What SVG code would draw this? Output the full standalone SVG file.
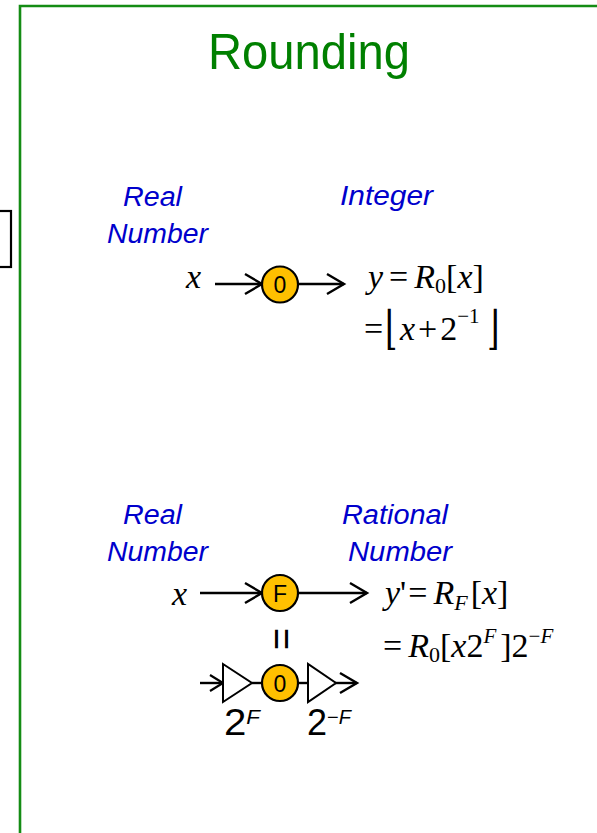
<svg xmlns="http://www.w3.org/2000/svg" width="597" height="833" viewBox="0 0 597 833">
<style>
.lbl{font-family:"Liberation Sans",Arial,sans-serif;font-style:italic;font-size:27px;fill:#0000CC}
.m{font-family:"Liberation Serif","Times New Roman",serif;font-size:34px;fill:#000}
.i{font-style:italic}
.sub{font-size:22px}
.sup{font-size:21px}
.node circle{fill:#FFC000;stroke:#000;stroke-width:2.2}
.node text{font-family:"Liberation Sans",Arial,sans-serif;font-size:23px;text-anchor:middle;fill:#000}
.conn line{stroke:#000;stroke-width:2.4;fill:none}
.tri{fill:#fff;stroke:#000;stroke-width:2}
.s{font-family:"Liberation Sans",Arial,sans-serif;fill:#000}
</style>
<defs>
<marker id="ah" markerUnits="userSpaceOnUse" markerWidth="20" markerHeight="22" refX="17" refY="10" orient="auto" overflow="visible">
<path d="M0,0 L17,10 L0,20" fill="none" stroke="#000" stroke-width="2.4"/>
</marker>
<marker id="ahs" markerUnits="userSpaceOnUse" markerWidth="16" markerHeight="18" refX="13" refY="8" orient="auto" overflow="visible">
<path d="M0,0 L13,8 L0,16" fill="none" stroke="#000" stroke-width="2.2"/>
</marker>
</defs>
<rect x="0" y="0" width="597" height="833" fill="#fff"/>
<!-- frame -->
<path d="M20,840 L20,6 L610,6" fill="none" stroke="#148C14" stroke-width="2.6"/>
<rect x="-6" y="211" width="17" height="56" fill="none" stroke="#000" stroke-width="2.2"/>
<text x="309" y="69" text-anchor="middle" font-family="'Liberation Sans',Arial,sans-serif" font-size="50" fill="#008000" textLength="202" lengthAdjust="spacingAndGlyphs">Rounding</text>

<!-- labels -->
<text class="lbl" x="123" y="206" textLength="59" lengthAdjust="spacingAndGlyphs">Real</text>
<text class="lbl" x="107" y="243" textLength="101" lengthAdjust="spacingAndGlyphs">Number</text>
<text class="lbl" x="340" y="205" textLength="93" lengthAdjust="spacingAndGlyphs">Integer</text>
<text class="lbl" x="123" y="524" textLength="59" lengthAdjust="spacingAndGlyphs">Real</text>
<text class="lbl" x="107" y="561" textLength="101" lengthAdjust="spacingAndGlyphs">Number</text>
<text class="lbl" x="342" y="524" textLength="106" lengthAdjust="spacingAndGlyphs">Rational</text>
<text class="lbl" x="348" y="561" textLength="104" lengthAdjust="spacingAndGlyphs">Number</text>

<!-- connectors -->
<g class="conn" id="connectors">
<line x1="215" y1="284" x2="262" y2="284" marker-end="url(#ah)"/>
<line x1="298" y1="284" x2="344" y2="284" marker-end="url(#ah)"/>
<line x1="200" y1="593" x2="262" y2="593" marker-end="url(#ah)"/>
<line x1="298" y1="593" x2="367" y2="593" marker-end="url(#ah)"/>
<line x1="200" y1="683" x2="223" y2="683" marker-end="url(#ahs)"/>
<line x1="252" y1="683" x2="262" y2="683"/>
<line x1="298" y1="683" x2="308" y2="683"/>
<line x1="335" y1="683" x2="357" y2="683" marker-end="url(#ah)"/>
</g>

<!-- nodes -->
<g class="node" id="round0">
<circle cx="280" cy="284.5" r="18"/>
<text x="280" y="293">0</text>
</g>
<g class="node" id="roundF">
<circle cx="280" cy="593" r="18"/>
<text x="280" y="601.5">F</text>
</g>
<g id="scaleUp">
<polygon class="tri" points="223,664 223,702 252,683"/>
<text class="s" x="224" y="735" font-size="36" textLength="36" lengthAdjust="spacingAndGlyphs">2<tspan font-size="20" font-style="italic" dy="-11">F</tspan></text>
</g>
<g class="node" id="round0b">
<circle cx="280" cy="683" r="18"/>
<text x="280" y="691.5">0</text>
</g>
<g id="scaleDown">
<polygon class="tri" points="308,664 308,702 336,683"/>
<text class="s" x="307" y="735" font-size="36">2<tspan font-size="20" dy="-11">−</tspan><tspan font-size="20" font-style="italic">F</tspan></text>
</g>
<text class="s" font-size="40" text-anchor="middle" transform="translate(267.5,639) rotate(90) scale(0.95,1)">=</text>

<!-- math: upper -->
<text class="m i" x="186" y="288">x</text>
<text class="m" x="368" y="288"><tspan class="i">y</tspan><tspan dx="6">=</tspan><tspan dx="6" class="i">R</tspan><tspan class="sub" dy="5">0</tspan><tspan dy="-5">[</tspan><tspan class="i">x</tspan>]</text>
<text class="m" x="364" y="340">=</text>
<text class="m" x="400" y="340"><tspan class="i">x</tspan><tspan dx="3">+</tspan><tspan dx="3">2</tspan><tspan class="sup" dy="-17">−1</tspan></text>
<text font-family="'DejaVu Serif',serif" font-size="32" transform="translate(385,344) scale(1,1.45)">⌊</text>
<text font-family="'DejaVu Serif',serif" font-size="32" transform="translate(487,344) scale(1,1.45)">⌋</text>

<!-- math: lower -->
<text class="m i" x="172" y="605">x</text>
<text class="m" x="385" y="604"><tspan class="i">y</tspan>'<tspan dx="2">=</tspan><tspan dx="6" class="i">R</tspan><tspan class="sub i" dy="6">F</tspan><tspan dy="-6" dx="3">[</tspan><tspan class="i">x</tspan>]</text>
<text class="m" x="383" y="657">=<tspan dx="6" class="i">R</tspan><tspan class="sub" dy="5">0</tspan><tspan dy="-5">[</tspan><tspan class="i">x</tspan>2<tspan class="sup i" dy="-14">F</tspan><tspan dy="14" dx="4">]</tspan>2<tspan class="sup" dy="-14">−</tspan><tspan class="sup i">F</tspan></text>
</svg>
